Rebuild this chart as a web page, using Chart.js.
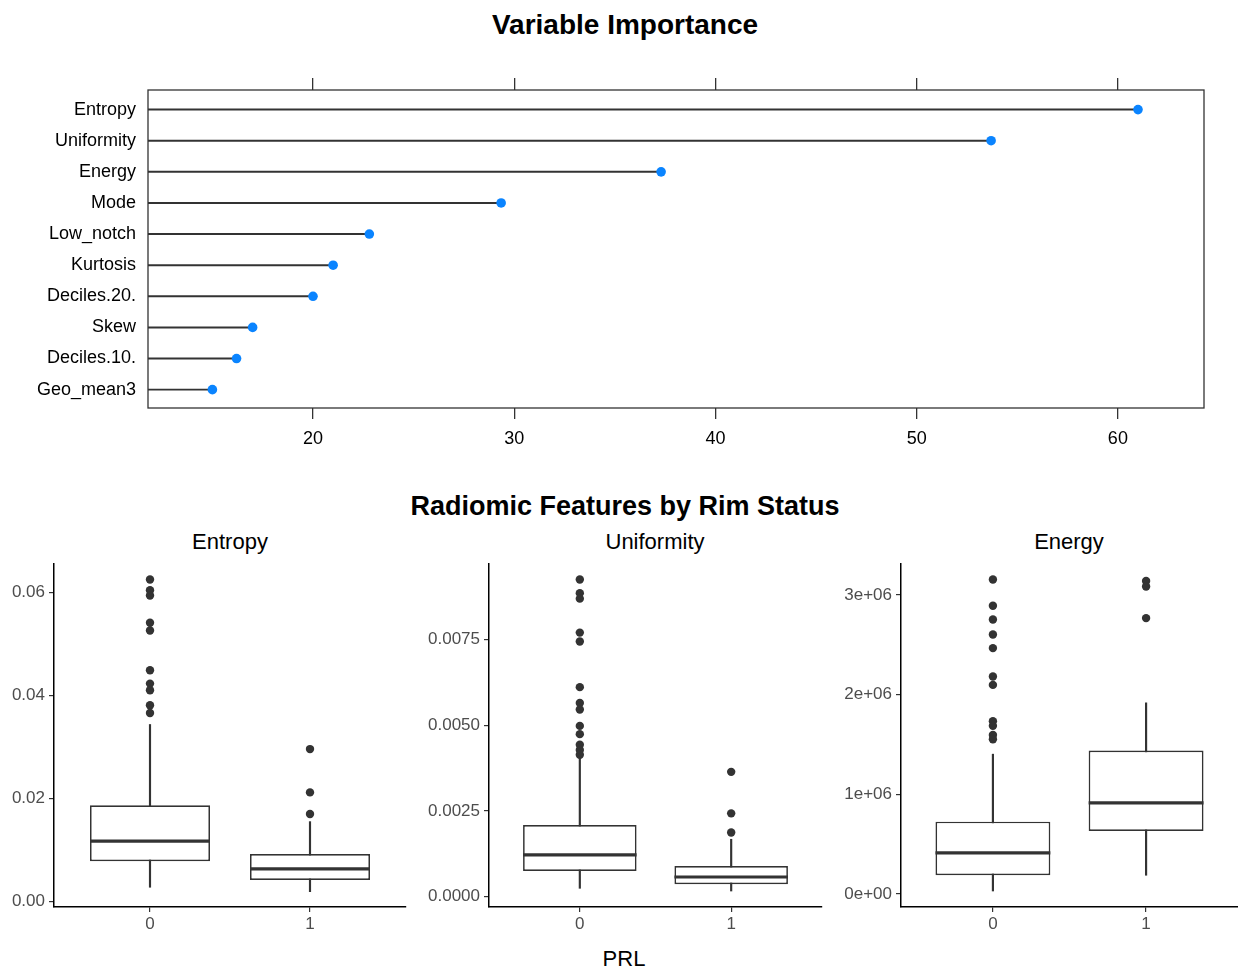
<!DOCTYPE html>
<html>
<head>
<meta charset="utf-8">
<script src="https://cdn.jsdelivr.net/npm/chart.js@4.4.1/dist/chart.umd.min.js"></script>
<style>
  body { margin: 0; background: #fff; font-family: "Liberation Sans", Arial, sans-serif; }
  #page { position: relative; width: 1238px; height: 970px; overflow: hidden; }
  canvas { position: absolute; }
  .ttl { position: absolute; transform: translateX(-50%); white-space: nowrap; line-height: 1; color: #000; }
</style>
</head>
<body>
<div id="page">
  <div class="ttl" style="left:625px; top:11px; font-size:28px; font-weight:bold;">Variable Importance</div>
  <canvas id="imp" width="1238" height="400" style="left:0; top:60px;"></canvas>

  <div class="ttl" style="left:625px; top:493px; font-size:27px; font-weight:bold;">Radiomic Features by Rim Status</div>
  <div class="ttl" style="left:230px; top:531px; font-size:22px;">Entropy</div>
  <div class="ttl" style="left:655px; top:531px; font-size:22px;">Uniformity</div>
  <div class="ttl" style="left:1069px; top:531px; font-size:22px;">Energy</div>
  <canvas id="boxEntropy" width="420" height="390" style="left:0; top:555px;"></canvas>
  <canvas id="boxUniformity" width="410" height="390" style="left:420px; top:555px;"></canvas>
  <canvas id="boxEnergy" width="408" height="390" style="left:830px; top:555px;"></canvas>
  <div class="ttl" style="left:624px; top:948px; font-size:22px;">PRL</div>
</div>

<script>
// ---- variable importance (top panel) ----
const features = ['Entropy', 'Uniformity', 'Energy', 'Mode', 'Low_notch', 'Kurtosis', 'Deciles.20.', 'Skew', 'Deciles.10.', 'Geo_mean3'];
const importance = [61.0, 53.7, 37.3, 29.35, 22.8, 21.0, 20.0, 17.0, 16.2, 15.0];
const importanceTicks = [20, 30, 40, 50, 60];

// ---- boxplots: PRL groups ----
const groups = ['0', '1'];
// per group: [lower whisker, Q1, median, Q3, upper whisker]
const entropyStats = [[0.0028, 0.00784, 0.01173, 0.01872, 0.03437], [0.00194, 0.00421, 0.00635, 0.00926, 0.01553]];
const entropyOutliers = [[0.0625, 0.0604, 0.0594, 0.0541, 0.0526, 0.0449, 0.0423, 0.0410, 0.0381, 0.0366], [0.0296, 0.0212, 0.0170]];
const entropyTicks = [0, 0.02, 0.04, 0.06];

const uniformityStats = [[0.000245, 0.00075, 0.001217, 0.002092, 0.004039], [0.000166, 0.000362, 0.000575, 0.000896, 0.001675]];
const uniformityOutliers = [[0.00925, 0.00885, 0.00869, 0.00770, 0.00744, 0.00611, 0.00565, 0.00546, 0.00498, 0.00474, 0.00443, 0.00428, 0.00414], [0.00364, 0.00243, 0.00187]];
const uniformityTicks = [0, 0.0025, 0.005, 0.0075];

const energyStats = [[30000, 188000, 412000, 726000, 1403000], [188000, 633000, 914000, 1439000, 1918000]];
const energyOutliers = [[3156000, 2892000, 2754000, 2603000, 2467000, 2182000, 2098000, 1734000, 1687000, 1596000, 1553000], [3140000, 3085000, 2768000]];
const energyTicks = [0, 1000000, 2000000, 3000000];

Chart.defaults.font.family = '"Liberation Sans", Arial, sans-serif';
Chart.defaults.animation = false;
Chart.defaults.events = [];
Chart.defaults.plugins.legend.display = false;
Chart.defaults.plugins.tooltip.enabled = false;
Chart.defaults.layout.autoPadding = false;

const ink = '#333333';

const frame = {
    id: 'frame',
    beforeDatasetsDraw(chart) {
        const {ctx, chartArea: a} = chart;
        ctx.save();
        ctx.strokeStyle = ink;
        ctx.lineWidth = 1.3;
        ctx.strokeRect(a.left, a.top, a.right - a.left, a.bottom - a.top);
        ctx.restore();
    }
};

function fixSize(w, h) {
    return s => {
        if (w != null) s.width = w;
        if (h != null) s.height = h;
        s.paddingTop = s.paddingBottom = s.paddingLeft = s.paddingRight = 0;
    };
}

new Chart(document.getElementById('imp'), {
    type: 'bar',
    data: {
        datasets: [
            {
                type: 'line',
                showLine: false,
                data: importance.map((v, i) => ({x: v, y: i})),
                pointRadius: 4.8,
                pointBackgroundColor: '#0a84ff',
                pointBorderWidth: 0
            },
            {
                data: importance.map((v, i) => ({x: v, y: i})),
                backgroundColor: ink,
                barThickness: 1.3
            }
        ]
    },
    options: {
        responsive: false,
        indexAxis: 'y',
        layout: {padding: {right: 34}},
        scales: {
            x: {
                type: 'linear', position: 'bottom', min: 11.8, max: 64.28, beginAtZero: false,
                afterBuildTicks: s => { s.ticks = importanceTicks.map(v => ({value: v})); },
                afterFit: fixSize(null, 52),
                grid: {drawOnChartArea: false, color: ink, lineWidth: 1.3, tickLength: 11},
                border: {display: false},
                ticks: {color: '#000', font: {size: 18}, padding: 9}
            },
            x2: {
                type: 'linear', position: 'top', min: 11.8, max: 64.28,
                afterBuildTicks: s => { s.ticks = importanceTicks.map(v => ({value: v})); },
                afterFit: fixSize(null, 30),
                grid: {drawOnChartArea: false, color: ink, lineWidth: 1.3, tickLength: 12},
                border: {display: false},
                ticks: {display: false}
            },
            y: {
                type: 'linear', reverse: true, min: -0.63, max: 9.59, offset: false,
                afterBuildTicks: s => { s.ticks = features.map((f, i) => ({value: i})); },
                afterFit: fixSize(148, null),
                grid: {display: false, offset: false},
                border: {display: false},
                ticks: {color: '#000', font: {size: 18}, padding: 4, callback: v => features[v]}
            }
        }
    },
    plugins: [frame]
});

const boxWidth = 0.75;

function boxPanel(id, stats, outliers, ticks, yMin, yMax, axisWidth, padRight, fmt) {
    const halfBox = chart => {
        const x = chart.scales.x;
        return x.getPixelForValue(boxWidth / 2) - x.getPixelForValue(0);
    };
    return new Chart(document.getElementById(id), {
        type: 'bar',
        data: {
            datasets: [
                {
                    type: 'line', showLine: false,
                    data: outliers.flatMap((list, g) => list.map(v => ({x: g, y: v}))),
                    pointRadius: 4.2, pointBackgroundColor: ink, pointBorderWidth: 0
                },
                {
                    type: 'line', showLine: false,
                    data: stats.map((s, g) => ({x: g, y: s[2]})),
                    pointStyle: 'line',
                    pointRadius: ctx => halfBox(ctx.chart),
                    pointBorderColor: ink, pointBorderWidth: 3.2
                },
                {
                    data: stats.map((s, g) => ({x: g, y: [s[1], s[3]]})),
                    backgroundColor: '#fff', borderColor: ink, borderWidth: 1.7, borderSkipped: false,
                    grouped: false, barPercentage: boxWidth, categoryPercentage: 1
                },
                {
                    data: stats.map((s, g) => ({x: g, y: [s[0], s[4]]})),
                    backgroundColor: ink, barThickness: 1.5, grouped: false
                }
            ]
        },
        options: {
            responsive: false,
            layout: {padding: {top: 9, right: padRight}},
            scales: {
                x: {
                    type: 'linear', min: -0.6, max: 1.6, offset: false,
                    afterBuildTicks: s => { s.ticks = groups.map((g, i) => ({value: i})); },
                    afterFit: fixSize(null, 38),
                    grid: {drawOnChartArea: false, offset: false, color: ink, lineWidth: 1.2, tickLength: 5},
                    border: {display: true, color: '#000', width: 1.5},
                    ticks: {color: '#4d4d4d', font: {size: 17}, padding: 2, callback: v => groups[v]}
                },
                y: {
                    type: 'linear', min: yMin, max: yMax, beginAtZero: false,
                    afterBuildTicks: s => { s.ticks = ticks.map(v => ({value: v})); },
                    afterFit: fixSize(axisWidth, null),
                    grid: {drawOnChartArea: false, color: ink, lineWidth: 1.2, tickLength: 5},
                    border: {display: true, color: '#000', width: 1.5},
                    ticks: {color: '#4d4d4d', font: {size: 17}, padding: 4, callback: fmt}
                }
            }
        }
    });
}

boxPanel('boxEntropy', entropyStats, entropyOutliers, entropyTicks, -0.00103, 0.0655, 54, 14, v => v.toFixed(2));
boxPanel('boxUniformity', uniformityStats, uniformityOutliers, uniformityTicks, -0.0003, 0.0097, 69, 8, v => v.toFixed(4));
boxPanel('boxEnergy', energyStats, energyOutliers, energyTicks, -130500, 3311000, 71, 0,
    v => v.toExponential(0).replace(/e([+-])(\d)$/, 'e$10$2'));
</script>
</body>
</html>
